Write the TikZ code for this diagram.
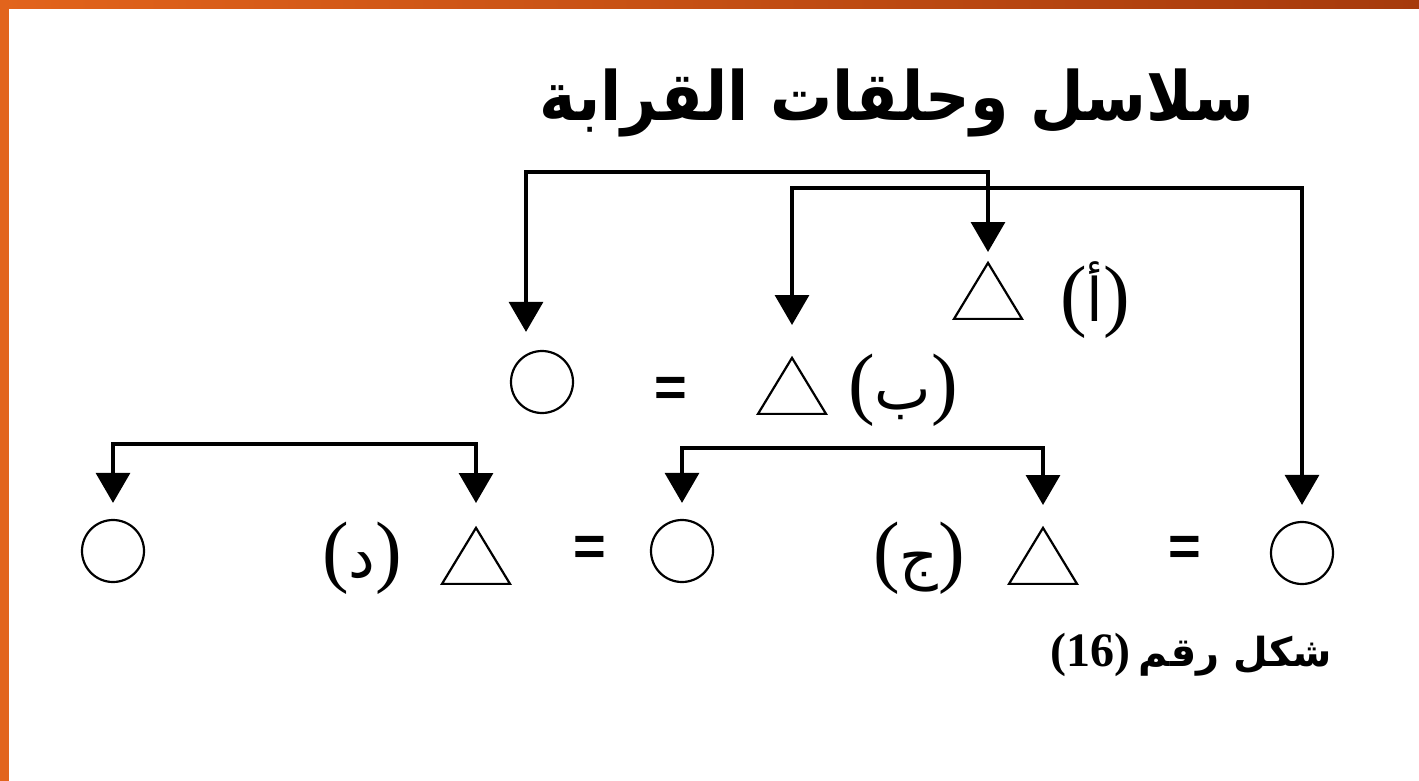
\documentclass[tikz,border=0pt]{standalone}
\usepackage{fontspec}
\usetikzlibrary{arrows.meta,shapes.geometric}
\TeXXeTstate=1
\newfontfamily\arabicfont[Script=Arabic]{DejaVu Sans}
\newfontfamily\seriffont{Liberation Serif}
\newfontfamily\plainsans{Liberation Sans}
\definecolor{bordorange}{HTML}{E2641C}
\definecolor{bordbrown}{HTML}{A63A0C}
\newcommand{\kinlabel}[1]{{\seriffont\fontsize{40}{44}\selectfont(}{\arabicfont\fontsize{30}{36}\selectfont #1}{\seriffont\fontsize{40}{44}\selectfont)}}
\begin{document}
\begin{tikzpicture}[x=0.5pt,y=-0.5pt,
  fem/.style={draw, line width=1.1pt, circle, minimum size=31pt, inner sep=0pt},
  tri/.style={draw, line width=1.1pt, isosceles triangle, shape border rotate=90,
    isosceles triangle stretches, minimum width=34pt, minimum height=28pt, inner sep=0pt},
  conn/.style={line width=1.6pt, {Triangle[width=17pt,length=15pt]}-{Triangle[width=17pt,length=15pt]}},
  eqsign/.style={font=\plainsans\bfseries\fontsize{28}{32}\selectfont, inner sep=0pt},
  lbl/.style={inner sep=0pt}]
\useasboundingbox (0,0) rectangle (1419,781);
\fill[white] (0,0) rectangle (1419,781);
\fill[bordorange] (0,0) rectangle (9,781);
\shade[left color=bordorange, right color=bordbrown] (0,0) rectangle (1419,9);
\fill[bordorange] (0,0) rectangle (9,9);

% title
\node[inner sep=0pt] (title) at (897,103) {\scalebox{0.91}[1]{\arabicfont\bfseries\fontsize{34}{40}\selectfont\beginR سلاسل وحلقات القرابة\endR}};

% nodes
\node[tri, anchor=apex] (tA) at (988,260) {};
\node[lbl] (lA) at (1095,300) {\kinlabel{أ}};

\node[fem] (cL) at (542,382) {};
\node[eqsign] (eq1) at (671,392) {=};
\node[tri, anchor=apex] (tB) at (792,355) {};
\node[lbl] (lB) at (903,390) {\kinlabel{ب}};

\node[fem] (c1) at (113,551) {};
\node[lbl] (lD) at (362,558) {\kinlabel{د}};
\node[tri, anchor=apex] (tD) at (476,525) {};
\node[eqsign] (eq2) at (590,551) {=};
\node[fem] (c2) at (682,551) {};
\node[lbl] (lJ) at (919,558) {\kinlabel{ج}};
\node[tri, anchor=apex] (tJ) at (1043,525) {};
\node[eqsign] (eq3) at (1185,551) {=};
\node[fem] (c3) at (1302,553) {};

\node[inner sep=0pt, anchor=east] (cap) at (1332,655) {{\seriffont\bfseries\fontsize{24}{28}\selectfont(16)}\hspace{4pt}{\arabicfont\bfseries\fontsize{20}{24}\selectfont\beginR شكل رقم\endR}};

% connectors
\coordinate (h1) at (700,172);
\coordinate (h2) at (1000,188);
\coordinate (h3) at (300,444);
\coordinate (h4) at (850,448);
\draw[conn, shorten <=9pt, shorten >=4pt] ([xshift=-8pt]cL.north) |- (h1) -| (tA.apex);
\draw[conn, shorten <=15pt, shorten >=8pt] (tB.apex) |- (h2) -| (c3.north);
\draw[conn, shorten <=8pt, shorten >=11pt] (c1.north) |- (h3) -| (tD.apex);
\draw[conn, shorten <=8pt, shorten >=10pt] (c2.north) |- (h4) -| (tJ.apex);
\end{tikzpicture}
\end{document}
